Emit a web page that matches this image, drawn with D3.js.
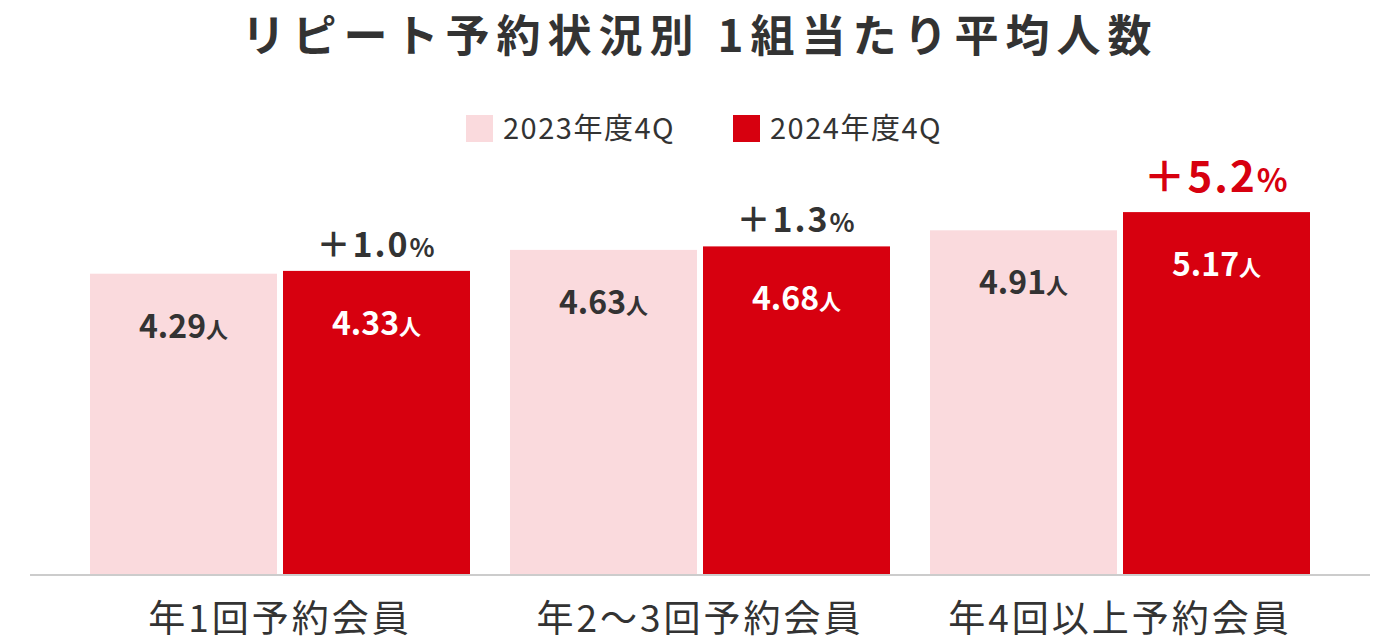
<!DOCTYPE html>
<html><head><meta charset="utf-8">
<script src="https://cdn.jsdelivr.net/npm/d3@7"></script>
<style>body{margin:0;background:#fff}text{font-family:"Noto Sans CJK JP","Noto Sans",sans-serif}</style>
</head><body><div id="chart"></div>
<script>
const categories = ['年1回予約会員', '年2〜3回予約会員', '年4回以上予約会員'];
const seriesNames = ['2023年度4Q', '2024年度4Q'];
const values2023 = [4.29, 4.63, 4.91];
const values2024 = [4.33, 4.68, 5.17];
const changes = ['＋1.0%', '＋1.3%', '＋5.2%'];
const colors = ['#fadadd', '#d7000f'];

const W = 1400, H = 641, base = 574;
const svg = d3.select('#chart').append('svg').attr('width', W).attr('height', H);

const x0 = d3.scaleBand().domain(categories).range([90, 1310]).paddingInner(40 / 420).paddingOuter(0);
const x1 = d3.scaleBand().domain([0, 1]).range([0, x0.bandwidth()]).paddingInner(6 / 193);
const y = d3.scaleLinear().domain([0, 8.2]).range([base, 0]);

svg.append('text').attr('x', 700).attr('y', 52).attr('text-anchor', 'middle')
  .attr('font-size', 44).attr('font-weight', 700).attr('fill', '#333').attr('letter-spacing', 7)
  .text('リピート予約状況別 1組当たり平均人数');

// legend
const leg = svg.append('g');
[[466, 0], [733, 1]].forEach(([lx, i]) => {
  leg.append('rect').attr('x', lx).attr('y', 115).attr('width', 27).attr('height', 27).attr('fill', colors[i]);
  leg.append('text').attr('x', lx + 37).attr('y', 139).attr('font-size', 29).attr('letter-spacing', 1.5)
    .attr('fill', '#333').text(seriesNames[i]);
});

svg.append('line').attr('x1', 30).attr('x2', 1370).attr('y1', base + 1).attr('y2', base + 1)
  .attr('stroke', '#ccc').attr('stroke-width', 2);

categories.forEach((c, ci) => {
  const g = svg.append('g').attr('transform', `translate(${x0(c)},0)`);
  [values2023[ci], values2024[ci]].forEach((v, i) => {
    const bx = x1(i), bw = x1.bandwidth();
    g.append('rect').attr('x', bx).attr('y', y(v)).attr('width', bw).attr('height', base - y(v)).attr('fill', colors[i]);
    const t = g.append('text').attr('x', bx + bw / 2).attr('y', y(v) + 64).attr('text-anchor', 'middle')
      .attr('font-weight', 700).attr('fill', i ? '#fff' : '#333');
    t.append('tspan').attr('font-size', 32).text(v.toFixed(2));
    t.append('tspan').attr('font-size', 22).text('人');
  });
  const big = ci === 2;
  const bx = x1(1) + x1.bandwidth() / 2;
  const m = changes[ci].match(/^(.*?)(%)$/);
  const pt = g.append('text').attr('x', bx).attr('y', y(values2024[ci]) - (big ? 20 : 14)).attr('text-anchor', 'middle')
    .attr('font-weight', 700).attr('fill', big ? '#d7000f' : '#333').attr('letter-spacing', 2);
  pt.append('tspan').attr('font-size', big ? 42 : 34).text(m[1]);
  pt.append('tspan').attr('font-size', big ? 32 : 26).text(m[2]);
  svg.append('text').attr('x', x0(c) + x0.bandwidth() / 2).attr('y', 632).attr('text-anchor', 'middle')
    .attr('font-size', 37).attr('letter-spacing', 3).attr('fill', '#333').text(c);
});
</script></body></html>
